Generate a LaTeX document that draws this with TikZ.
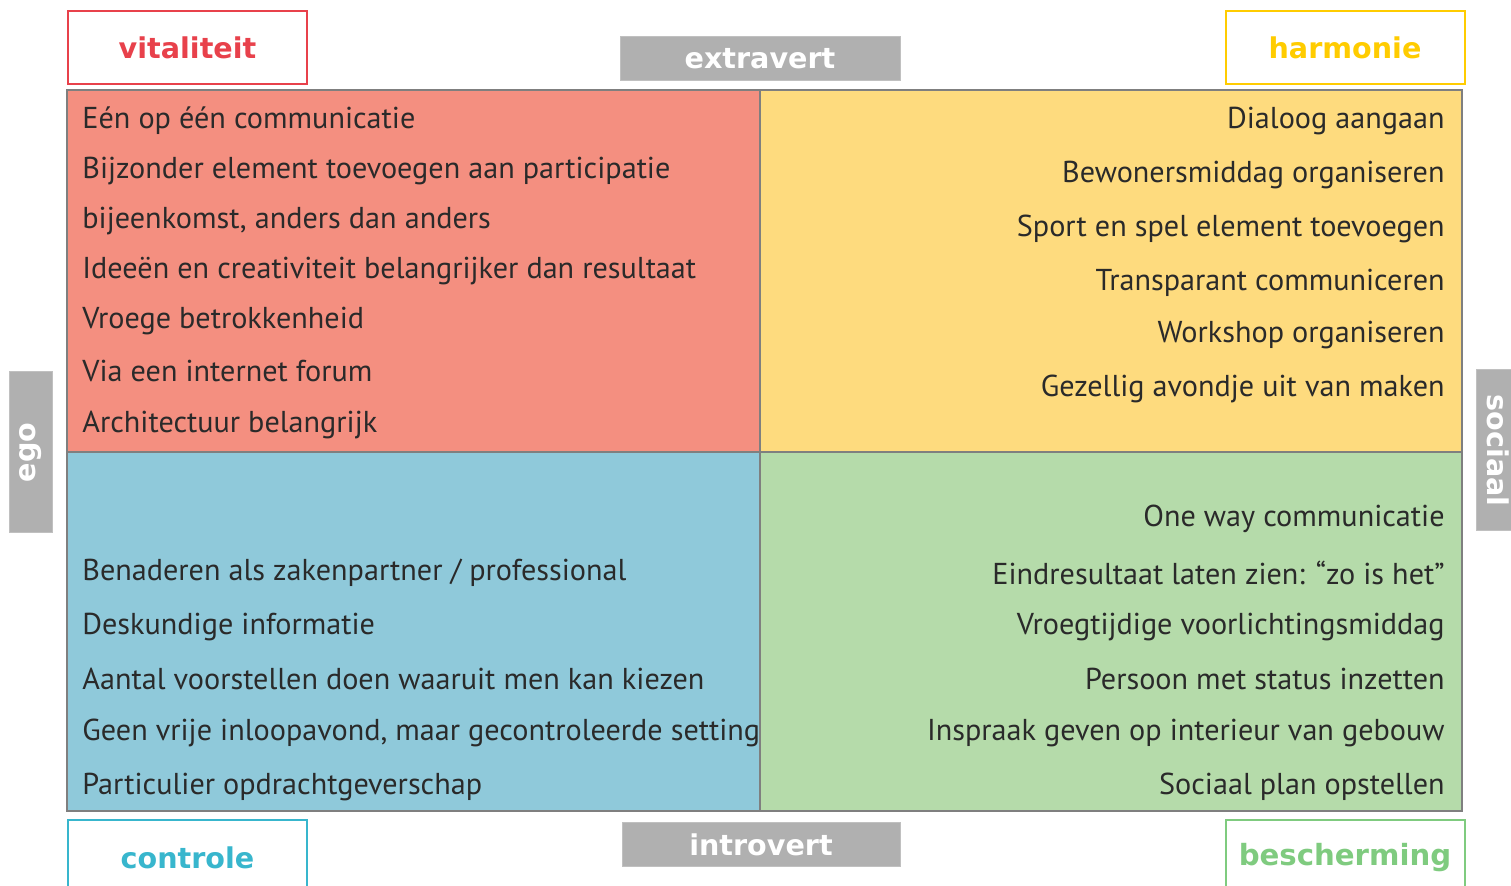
\documentclass[tikz,border=0pt]{standalone}
\usepackage{fontspec}
\setmainfont{PT Sans}
\newfontfamily\labelfont{DejaVu Sans}
\usetikzlibrary{positioning}

\definecolor{vitred}{HTML}{E8414B}
\definecolor{harmyellow}{HTML}{FFCC00}
\definecolor{contcyan}{HTML}{38B6CD}
\definecolor{beschgreen}{HTML}{7FCB7F}
\definecolor{vitfill}{HTML}{F48F80}
\definecolor{harmfill}{HTML}{FEDB7E}
\definecolor{contfill}{HTML}{8FC9DA}
\definecolor{beschfill}{HTML}{B5DBAA}
\definecolor{axisgray}{HTML}{B0B0B0}
\definecolor{framegray}{HTML}{7F7F7F}
\definecolor{itemtext}{HTML}{2A2A2A}

\tikzset{
    quad/.style={draw=framegray, line width=1.2pt},
    item/.style={text=itemtext, font=\fontsize{15.1}{17}\selectfont, inner sep=0pt},
    colorbox/.style={draw=#1, text=#1, line width=1pt, fill=white,
        font=\labelfont\bfseries\fontsize{14.3}{16}\selectfont,
        minimum width=119.5pt, minimum height=36.5pt, inner sep=0pt},
    axisbox/.style={fill=axisgray, draw=axisgray!80!white, line width=0.5pt, text=white,
        font=\labelfont\bfseries\fontsize{14.3}{16}\selectfont, inner sep=0pt}
}

\begin{document}
\begin{tikzpicture}[x=0.5pt, y=-0.5pt]
    \useasboundingbox (0,0) rectangle (1511,886);

    % Quadrants
    \draw[quad, fill=vitfill] (67,90) rectangle (760,452);
    \draw[quad, fill=harmfill] (760,90) rectangle (1462,452);
    \draw[quad, fill=contfill] (67,452) rectangle (760,811);
    \draw[quad, fill=beschfill] (760,452) rectangle (1462,811);

    % Corner labels
    \node[colorbox=vitred] (vitaliteit) at (187.5,47.5) {vitaliteit};
    \node[colorbox=harmyellow] (harmonie) at (1345,47.5) {harmonie};
    \node[colorbox=contcyan, anchor=north] (controle) at (187.5,819) {};
    \node[text=contcyan, font=\labelfont\bfseries\fontsize{14.3}{16}\selectfont] (controletext) at (187.5,858) {controle};
    \node[colorbox=beschgreen, anchor=north] (bescherming) at (1345,819) {};
    \node[text=beschgreen, font=\labelfont\bfseries\fontsize{14.6}{16}\selectfont] (beschermingtext) at (1345,858) {bescherming};

    % Axis labels
    \node[axisbox, minimum width=140pt, minimum height=22pt] (extravert) at (760,59) {extravert};
    \node[axisbox, minimum width=139pt, minimum height=22pt] (introvert) at (761,844.5) {introvert};
    \node[axisbox, minimum width=80.5pt, minimum height=21.5pt, rotate=90] (ego) at (30.5,452.5) {ego};
    \node[axisbox, minimum width=80.5pt, minimum height=21.5pt, rotate=-90] (sociaal) at (1498,450.5) {sociaal};

    % Items per quadrant
    \foreach \txt/\ypos [count=\i] in {
        {E\'en op \'e\'en communicatie}/121,
        {Bijzonder element toevoegen aan participatie}/171,
        {bijeenkomst, anders dan anders}/221,
        {Idee\"en en creativiteit belangrijker dan resultaat}/271,
        {Vroege betrokkenheid}/321,
        {Via een internet forum}/371,
        {Architectuur belangrijk}/425}
        \node[item, anchor=west] (vit\i) at (82,\ypos) {\txt};

    \foreach \txt/\ypos [count=\i] in {
        {Dialoog aangaan}/121,
        {Bewonersmiddag organiseren}/175,
        {Sport en spel element toevoegen}/229,
        {Transparant communiceren}/283,
        {Workshop organiseren}/335,
        {Gezellig avondje uit van maken}/389}
        \node[item, anchor=east] (harm\i) at (1445,\ypos) {\txt};

    \foreach \txt/\ypos [count=\i] in {
        {Benaderen als zakenpartner / professional}/573,
        {Deskundige informatie}/627,
        {Aantal voorstellen doen waaruit men kan kiezen}/679,
        {Geen vrije inloopavond, maar gecontroleerde setting}/733,
        {Particulier opdrachtgeverschap}/787}
        \node[item, anchor=west] (cont\i) at (82,\ypos) {\txt};

    \foreach \txt/\ypos [count=\i] in {
        {One way communicatie}/519,
        {Eindresultaat laten zien: “zo is het”}/573,
        {Vroegtijdige voorlichtingsmiddag}/627,
        {Persoon met status inzetten}/679,
        {Inspraak geven op interieur van gebouw}/733,
        {Sociaal plan opstellen}/787}
        \node[item, anchor=east] (besch\i) at (1445,\ypos) {\txt};
\end{tikzpicture}
\end{document}
